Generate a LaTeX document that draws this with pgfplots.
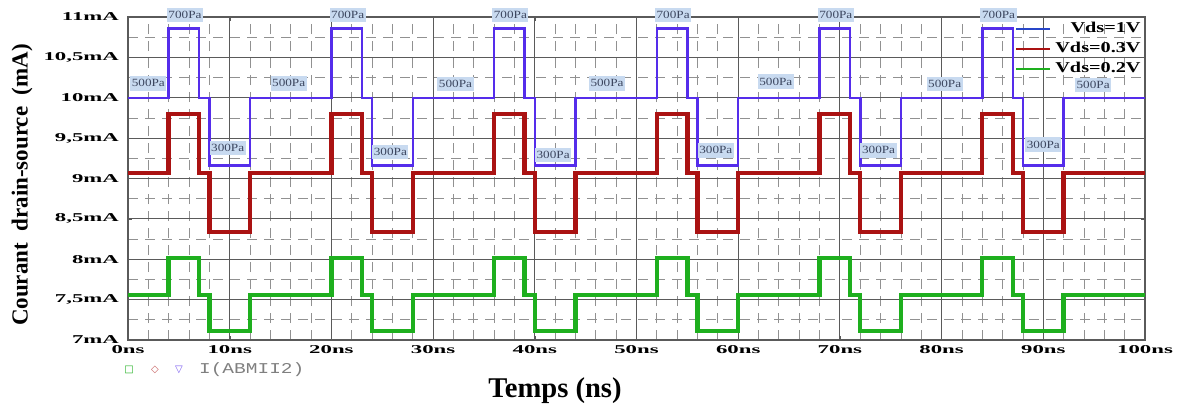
\documentclass[border=0pt]{standalone}
\usepackage{fontspec}
\setmainfont{Liberation Serif}
\newfontfamily\tickfont[FakeStretch=1.9]{Liberation Serif Bold}
\newfontfamily\legfont[FakeStretch=1.35]{Liberation Serif Bold}
\newfontfamily\boxfont[FakeStretch=1.2]{Liberation Serif}
\newfontfamily\monofont[FakeStretch=1.3]{Liberation Mono}
\newfontfamily\symfont{DejaVu Sans}
\usepackage{pgfplots}
\pgfplotsset{compat=1.18}
\definecolor{cblue}{RGB}{85,45,235}
\definecolor{cblueleg}{RGB}{40,70,200}
\definecolor{cred}{RGB}{170,18,18}
\definecolor{cgreen}{RGB}{30,175,30}
\definecolor{boxbg}{RGB}{200,218,240}
\definecolor{boxtxt}{RGB}{60,70,95}
\definecolor{gridmaj}{RGB}{90,90,90}
\definecolor{gridmin}{RGB}{145,145,145}
\tikzset{lab/.style={fill=boxbg, text=boxtxt, inner xsep=0.8pt, inner ysep=1.8pt,
    font=\boxfont\fontsize{5.5}{6}\selectfont}}
\begin{document}
\begin{tikzpicture}
\path[use as bounding box] (0,0) rectangle (591pt,204.5pt);
\begin{axis}[
  name=ax, at={(64pt,34.5pt)}, anchor=south west,
  scale only axis, width=508.5pt, height=161.5pt,
  xmin=0, xmax=100, ymin=7, ymax=11,
  clip=false,
  xtick={0,10,...,100},
  xticklabels={0ns,10ns,20ns,30ns,40ns,50ns,60ns,70ns,80ns,90ns,100ns},
  ytick={7,7.5,8,8.5,9,9.5,10,10.5,11},
  yticklabels={7mA,{7,5mA},8mA,{8,5mA},9mA,{9,5mA},10mA,{10,5mA},11mA},
  minor x tick num=4, minor y tick num=1,
  grid=both,
  major grid style={gridmaj, line width=0.5pt},
  minor grid style={gridmin, line width=0.4pt, dash pattern=on 5pt off 3.5pt},
  axis line style={gridmaj, line width=0.7pt},
  tick style={gridmaj},
  major tick length=2pt, minor tick length=0pt, tick align=inside,
  yticklabel style={font=\tickfont\fontsize{6}{7}\selectfont, anchor=east, xshift=-1pt},
  xticklabel style={font=\tickfont\fontsize{6}{7}\selectfont, anchor=north, yshift=1pt},
  legend style={at={(1,1)}, anchor=north east, yshift=-0.5pt, draw=none, fill=none,
    inner sep=0pt, font=\legfont\fontsize{7.5}{8.5}\selectfont, row sep=-0.8pt},
  legend cell align=right,
  legend image code/.code={\draw[#1, line width=1.2pt] (0pt,0pt) -- (17pt,0pt);},
]
\addplot[cblue, line width=1.25pt, forget plot] coordinates {
(0,10) (4,10) (4,10.86) (7,10.86) (7,10) (8,10) (8,9.16) (12,9.16) (12,10)
(20,10) (20,10.86) (23,10.86) (23,10) (24,10) (24,9.16) (28,9.16) (28,10)
(36,10) (36,10.86) (39,10.86) (39,10) (40,10) (40,9.16) (44,9.16) (44,10)
(52,10) (52,10.86) (55,10.86) (55,10) (56,10) (56,9.16) (60,9.16) (60,10)
(68,10) (68,10.86) (71,10.86) (71,10) (72,10) (72,9.16) (76,9.16) (76,10)
(84,10) (84,10.86) (87,10.86) (87,10) (88,10) (88,9.16) (92,9.16) (92,10) (100,10)};
\addlegendimage{cblueleg}
\addlegendentry{Vds=1V}
\addplot[cred, line width=2.2pt] coordinates {
(0,9.065) (4,9.065) (4,9.8) (7,9.8) (7,9.065) (8,9.065) (8,8.34) (12,8.34) (12,9.065)
(20,9.065) (20,9.8) (23,9.8) (23,9.065) (24,9.065) (24,8.34) (28,8.34) (28,9.065)
(36,9.065) (36,9.8) (39,9.8) (39,9.065) (40,9.065) (40,8.34) (44,8.34) (44,9.065)
(52,9.065) (52,9.8) (55,9.8) (55,9.065) (56,9.065) (56,8.34) (60,8.34) (60,9.065)
(68,9.065) (68,9.8) (71,9.8) (71,9.065) (72,9.065) (72,8.34) (76,8.34) (76,9.065)
(84,9.065) (84,9.8) (87,9.8) (87,9.065) (88,9.065) (88,8.34) (92,8.34) (92,9.065) (100,9.065)};
\addlegendentry{Vds=0.3V}
\addplot[cgreen, line width=2.2pt] coordinates {
(0,7.56) (4,7.56) (4,8.015) (7,8.015) (7,7.56) (8,7.56) (8,7.11) (12,7.11) (12,7.56)
(20,7.56) (20,8.015) (23,8.015) (23,7.56) (24,7.56) (24,7.11) (28,7.11) (28,7.56)
(36,7.56) (36,8.015) (39,8.015) (39,7.56) (40,7.56) (40,7.11) (44,7.11) (44,7.56)
(52,7.56) (52,8.015) (55,8.015) (55,7.56) (56,7.56) (56,7.11) (60,7.11) (60,7.56)
(68,7.56) (68,8.015) (71,8.015) (71,7.56) (72,7.56) (72,7.11) (76,7.11) (76,7.56)
(84,7.56) (84,8.015) (87,8.015) (87,7.56) (88,7.56) (88,7.11) (92,7.11) (92,7.56) (100,7.56)};
\addlegendentry{Vds=0.2V}
% pressure annotations
\node[lab] at (axis cs:5.6,11.025) {700Pa};
\node[lab] at (axis cs:21.6,11.025) {700Pa};
\node[lab] at (axis cs:37.6,11.025) {700Pa};
\node[lab] at (axis cs:53.6,11.025) {700Pa};
\node[lab] at (axis cs:69.6,11.025) {700Pa};
\node[lab] at (axis cs:85.6,11.025) {700Pa};
\node[lab] at (axis cs:2.0,10.18) {500Pa};
\node[lab] at (axis cs:15.8,10.18) {500Pa};
\node[lab] at (axis cs:32.2,10.17) {500Pa};
\node[lab] at (axis cs:47.1,10.18) {500Pa};
\node[lab] at (axis cs:63.7,10.2) {500Pa};
\node[lab] at (axis cs:80.3,10.17) {500Pa};
\node[lab] at (axis cs:94.9,10.16) {500Pa};
\node[lab] at (axis cs:9.8,9.38) {300Pa};
\node[lab] at (axis cs:25.8,9.33) {300Pa};
\node[lab] at (axis cs:41.8,9.29) {300Pa};
\node[lab] at (axis cs:57.8,9.35) {300Pa};
\node[lab] at (axis cs:73.8,9.35) {300Pa};
\node[lab] at (axis cs:90.0,9.42) {300Pa};
\end{axis}
\node[rotate=90, font=\bfseries\fontsize{11.5}{13}\selectfont] at (11pt,112pt) {Courant\ \ drain-source\ \ (mA)};
\node[font=\bfseries\fontsize{14.3}{16}\selectfont] at (277.5pt,9pt) {Temps (ns)};
\node[text=cgreen, font=\symfont\fontsize{5}{6}\selectfont] at (64.5pt,19.5pt) {□};
\node[text=cred!70, font=\symfont\fontsize{5}{6}\selectfont] at (77.5pt,19.5pt) {◇};
\node[text=cblue!80, font=\symfont\fontsize{5}{6}\selectfont] at (89.5pt,19.5pt) {▽};
\node[anchor=west, text=gray, font=\monofont\fontsize{7.5}{8}\selectfont] at (96pt,19.5pt) {I(ABMII2)};
\end{tikzpicture}
\end{document}
